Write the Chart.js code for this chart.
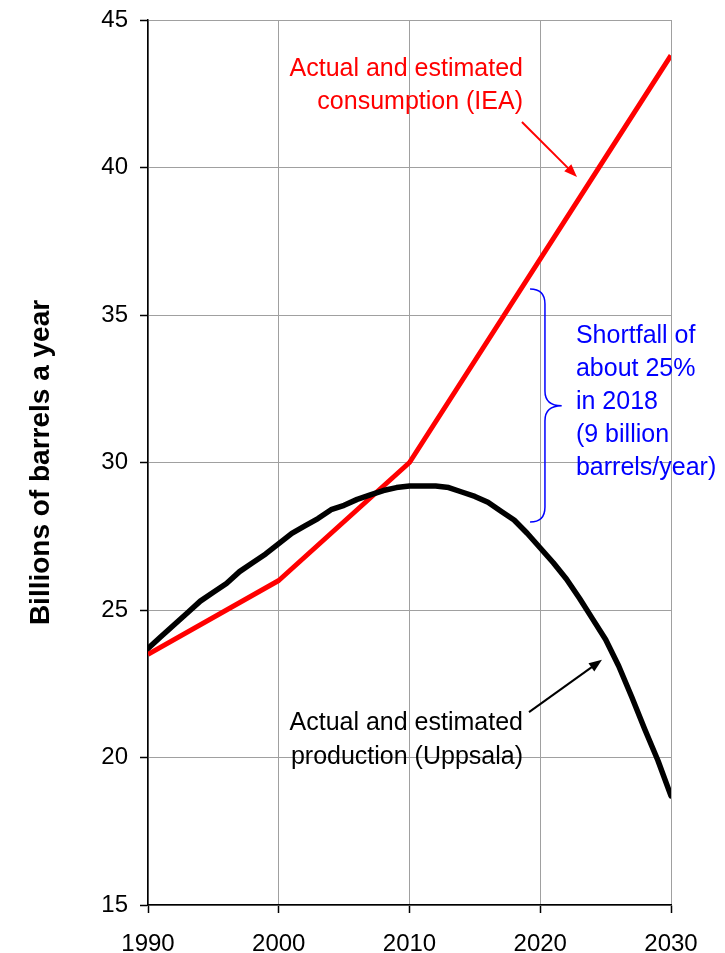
<!DOCTYPE html>
<html><head><meta charset="utf-8">
<script src="https://cdn.jsdelivr.net/npm/chart.js@4.4.1/dist/chart.umd.min.js"></script>
<style>html,body{margin:0;padding:0;background:#fff;}</style>
</head><body>
<canvas id="c" width="725" height="953"></canvas>
<script>
// ---- data ----
const productionYears = [1990,1991,1992,1993,1994,1995,1996,1997,1998,1999,
  2000,2001,2002,2003,2004,2005,2006,2007,2008,2009,
  2010,2011,2012,2013,2014,2015,2016,2017,2018,2019,
  2020,2021,2022,2023,2024,2025,2026,2027,2028,2029,2030];
const productionValues = [23.7,24.1,24.5,24.9,25.3,25.6,25.9,26.3,26.6,26.9,
  27.25,27.6,27.85,28.1,28.4,28.55,28.75,28.9,29.05,29.15,
  29.2,29.2,29.2,29.15,29.0,28.85,28.65,28.35,28.05,27.6,
  27.1,26.6,26.05,25.4,24.7,24.0,23.1,22.05,20.95,19.9,18.7];
const consumptionYears = [1990,2000,2010,2030];
const consumptionValues = [23.5,26.0,30.0,43.8];
const xTickValues = [1990,2000,2010,2020,2030];
const yTickValues = [15,20,25,30,35,40,45];
const yAxisTitle = 'Billions of barrels a year';
const consumptionLabel = ['Actual and estimated','consumption (IEA)'];
const productionLabel = ['Actual and estimated','production (Uppsala)'];
const shortfallLabel = ['Shortfall of','about 25%','in 2018','(9 billion','barrels/year)'];

const FONT = '"Liberation Sans", Arial, Helvetica, sans-serif';

const annotations = {
  id: 'annotations',
  afterDatasetsDraw(chart) {
    const {ctx, scales: {x, y}} = chart;
    const X = v => x.getPixelForValue(v), Y = v => y.getPixelForValue(v);
    ctx.save();
    ctx.font = '25px ' + FONT;
    ctx.textBaseline = 'middle';
    // consumption label (red, right aligned)
    ctx.fillStyle = '#ff0000'; ctx.textAlign = 'right';
    [43.34, 42.22].forEach((v, i) => ctx.fillText(consumptionLabel[i], X(2018.68), Y(v)));
    // production label (black)
    ctx.fillStyle = '#000000';
    [21.17, 20.02].forEach((v, i) => ctx.fillText(productionLabel[i], X(2018.68), Y(v)));
    // shortfall label (blue, left aligned)
    ctx.fillStyle = '#0000ff'; ctx.textAlign = 'left';
    [34.29, 33.17, 32.05, 30.93, 29.81].forEach((v, i) => ctx.fillText(shortfallLabel[i], X(2022.73), Y(v)));

    function arrow(x0, y0, x1, y1, color) {
      const a = Math.atan2(y1 - y0, x1 - x0), L = 13, W = 5;
      ctx.strokeStyle = color; ctx.fillStyle = color; ctx.lineWidth = 2;
      ctx.beginPath(); ctx.moveTo(x0, y0);
      ctx.lineTo(x1 - L * 0.8 * Math.cos(a), y1 - L * 0.8 * Math.sin(a)); ctx.stroke();
      ctx.beginPath(); ctx.moveTo(x1, y1);
      ctx.lineTo(x1 - L * Math.cos(a) + W * Math.sin(a), y1 - L * Math.sin(a) - W * Math.cos(a));
      ctx.lineTo(x1 - L * Math.cos(a) - W * Math.sin(a), y1 - L * Math.sin(a) + W * Math.cos(a));
      ctx.closePath(); ctx.fill();
    }
    arrow(X(2018.60), Y(41.54), X(2022.81), Y(39.68), '#ff0000');
    arrow(X(2019.14), Y(21.54), X(2024.72), Y(23.31), '#000000');

    // brace
    const xe = X(2019.22), xs = X(2020.36), xt = X(2021.64);
    ctx.strokeStyle = '#0000ff'; ctx.lineWidth = 1.5;
    ctx.beginPath();
    ctx.moveTo(xe, Y(35.88));
    ctx.quadraticCurveTo(xs, Y(35.88), xs, Y(35.37));
    ctx.lineTo(xs, Y(32.42));
    ctx.quadraticCurveTo(xs, Y(31.92), xt, Y(31.92));
    ctx.quadraticCurveTo(xs, Y(31.92), xs, Y(31.41));
    ctx.lineTo(xs, Y(28.49));
    ctx.quadraticCurveTo(xs, Y(27.98), xe, Y(27.98));
    ctx.stroke();
    ctx.restore();
  }
};

new Chart(document.getElementById('c'), {
  type: 'line',
  data: {
    datasets: [
      {
        label: 'Actual and estimated production (Uppsala)',
        data: productionYears.map((yr, i) => ({x: yr, y: productionValues[i]})),
        borderColor: '#000000', borderWidth: 5.5, pointRadius: 0, tension: 0,
        borderJoinStyle: 'round', borderCapStyle: 'round', fill: false
      },
      {
        label: 'Actual and estimated consumption (IEA)',
        data: consumptionYears.map((yr, i) => ({x: yr, y: consumptionValues[i]})),
        borderColor: '#ff0000', borderWidth: 5, pointRadius: 0, tension: 0,
        borderJoinStyle: 'round', fill: false
      }
    ]
  },
  options: {
    responsive: false,
    animation: false,
    devicePixelRatio: 1,
    layout: {padding: {left: 24, top: 20, right: 54, bottom: 0}},
    plugins: {legend: {display: false}, tooltip: {enabled: false}},
    scales: {
      x: {
        type: 'linear', min: 1990, max: 2030,
        afterBuildTicks: s => { s.ticks = xTickValues.map(v => ({value: v})); },
        afterFit: s => { s.height = 48; s.paddingLeft = 0; s.paddingRight = 0; },
        ticks: {color: '#000', font: {size: 24, family: FONT}, padding: 17, maxRotation: 0,
          callback: v => String(v)},
        grid: {color: '#a0a0a0', lineWidth: 1, tickLength: 8, tickColor: '#000', tickWidth: 1.5},
        border: {color: '#000', width: 1.5}
      },
      y: {
        type: 'linear', min: 15, max: 45,
        afterBuildTicks: s => { s.ticks = yTickValues.map(v => ({value: v})); },
        afterFit: s => { s.width = 124; s.paddingTop = 0; s.paddingBottom = 0; },
        ticks: {color: '#000', font: {size: 24, family: FONT}, padding: 12,
          callback: v => String(v)},
        grid: {color: '#a0a0a0', lineWidth: 1, tickLength: 8, tickColor: '#000', tickWidth: 1.5},
        border: {color: '#000', width: 1.5},
        title: {display: true, text: yAxisTitle, color: '#000',
          font: {size: 28, weight: 'bold', family: FONT}, padding: {top: 0, bottom: 0}}
      }
    }
  },
  plugins: [annotations]
});
</script>
</body></html>
